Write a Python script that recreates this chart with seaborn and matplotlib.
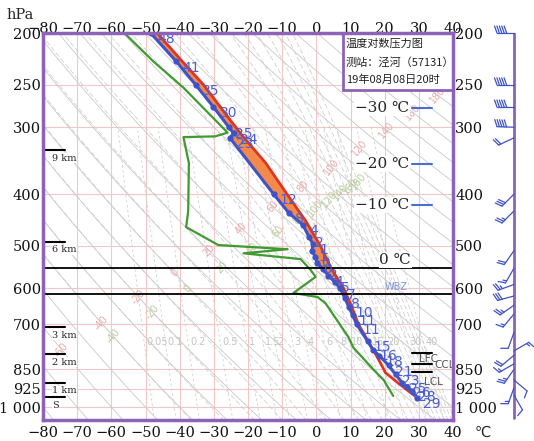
import numpy as np
import matplotlib
matplotlib.use('Agg')
import matplotlib.pyplot as plt
from matplotlib.patches import Rectangle
from matplotlib.ticker import NullLocator
import seaborn as sns

# ── Sounding values ──────────────────────────────────────────────────────────
# environment temperature (blue) with the numbers printed next to each point
env_p = [200, 226, 250, 275, 300, 308, 314, 400, 434, 457,
         480, 496, 510, 524, 538, 552, 568, 584, 600, 625, 650, 673, 700,
         753, 782, 801, 836, 869, 902, 916, 933, 960]
env_t = [-48.5, -41.0, -35.3, -30.1, -25.6, -24.2, -25.3, -12.5, -8.0, -3.9,
         -2.2, -1.0, -1.3, -0.3, 0.3, 1.9, 3.5, 5.4, 7.0, 8.3, 9.5, 10.6, 11.8,
         15.0, 16.6, 18.4, 21.2, 23.2, 25.2, 26.5, 28.0, 29.5]
env_lbl = ['48', '41', '35', '30', '25', '24', '23', '12', '8', '4',
           '2', '1', '1', '0', '0', '2', '4', '5', '7', '8', '10', '11', '11',
           '15', '16', '18', '21', '23', '25', '26', '28', '29']

# lifted parcel (red)
par_p = [960, 930, 900, 862, 830, 793, 750, 700, 650, 600, 550, 500,
         450, 400, 350, 312, 300, 250, 225, 200]
par_t = [29.5, 26.7, 23.8, 20.2, 18.9, 17.2, 15.0, 12.3, 10.4, 8.0, 4.3, 1.2,
         -3.0, -8.6, -14.8, -21.5, -23.6, -33.0, -39.5, -46.6]

# dew point (green)
td_p = [200, 226, 253, 281, 300, 307, 312, 313, 350, 430, 461, 498, 507, 516,
        529, 554, 571, 612, 623, 640, 740, 775, 852, 890, 953]
td_t = [-56.2, -47.7, -38.9, -31.9, -27.5, -26.0, -29.6, -38.9, -37.3, -37.5,
        -38.1, -28.7, -8.4, -21.3, -4.6, -1.7, -0.2, -6.7, 0.4, 2.7, 9.4, 10.9,
        16.8, 19.7, 22.5]

# wind barbs (hPa, direction deg, speed m/s)
wind_p   = [200, 250, 275, 300, 314, 400, 430, 510, 550, 590, 620, 645, 670,
            725, 785, 800, 830, 850, 890, 920, 950]
wind_dir = [270, 270, 270, 272, 245, 225, 225, 215, 210, 250, 255, 235, 220,
            200, 60, 230, 240, 215, 130, 200, 150]
wind_spd = [20, 20, 20, 20, 8, 12, 10, 8, 6, 10, 12, 10, 6,
            4, 6, 8, 6, 10, 4, 6, 4]

# levels marked on the chart
height_p   = [331, 491, 709, 797, 900, 958]
height_lbl = ['9 km', '6 km', '3 km', '2 km', '1 km', 'S']
iso_p   = [276, 351, 419]
iso_lbl = ['\u221230 \u2103', '\u221220 \u2103', '\u221210 \u2103']
zero_p, wbz_p = 550, 615
lev_p   = [793, 830, 860]
lev_lbl = ['LFC', 'CCL', 'LCL']
lev_lbl_p = [812, 834, 897]

P_TICKS  = [200, 250, 300, 400, 500, 600, 700, 850, 925, 1000]
P_LABELS = ['200', '250', '300', '400', '500', '600', '700', '850', '925', '1 000']
T_TICKS  = list(range(-80, 41, 10))
T_LABELS = [f'{t}'.replace('-', '\u2212') for t in T_TICKS]
MIX_W    = [0.05, 0.1, 0.2, 0.5, 1, 1.5, 2, 3, 4, 6, 8, 10, 15, 20, 30, 40]
DRY_TH   = list(range(-80, 211, 10))
MOIST_TH = list(range(-40, 181, 10))

# ── Colours ──────────────────────────────────────────────────────────────────
PURPLE = '#8d62b8'
BLUE   = '#3f52c6'
LBLUE  = '#4a5fd0'
RED    = '#e2331f'
ORANGE = '#f38a4c'
GREEN  = '#3f9a30'
PINK   = '#f1c7c7'

P_TOP, P_BOT = 200, 1057
T_MIN, T_MAX = -80, 40

# ── Thermo helpers (background reference lines only) ─────────────────────────
RD, CP, LV, EPS = 287.04, 1005.7, 2.501e6, 0.622


def sat_mix(t, p):
    es = 6.112 * np.exp(17.67 * t / (t + 243.5))
    return EPS * es / (p - es)


def moist_rate(t, p):
    tk = t + 273.15
    r = sat_mix(t, p)
    return (RD * tk + LV * r) / (CP + LV ** 2 * r * EPS / (RD * tk ** 2))


def integrate(t, lp_grid):
    out = [t]
    for a, b in zip(lp_grid[:-1], lp_grid[1:]):
        d = b - a
        k1 = moist_rate(t, np.exp(a))
        k2 = moist_rate(t + k1 * d, np.exp(b))
        t = t + 0.5 * (k1 + k2) * d
        out.append(t)
    return np.array(out)


def moist_line(th_se, pg):
    target = th_se + 273.15
    lo, hi = -95.0, 45.0
    for _ in range(60):
        mid = 0.5 * (lo + hi)
        tk = mid + 273.15
        val = tk * np.exp(LV * sat_mix(mid, 1000.0) / (CP * tk))
        lo, hi = (mid, hi) if val < target else (lo, mid)
    t0 = 0.5 * (lo + hi)
    t_bot = integrate(t0, np.linspace(np.log(1000), np.log(pg[0]), 20))[-1]
    return integrate(t_bot, np.log(pg))


def cross_point(t_arr, p_arr, a, b):
    X = np.asarray(t_arr) * 3.41
    Y = np.log(p_arr) * 232.4
    xa, ya = a[0] * 3.41, np.log(a[1]) * 232.4
    xb, yb = b[0] * 3.41, np.log(b[1]) * 232.4
    s = (xb - xa) * (Y - ya) - (yb - ya) * (X - xa)
    idx = np.where(np.sign(s[:-1]) != np.sign(s[1:]))[0]
    if len(idx) == 0:
        return None
    i = idx[0]
    f = s[i] / (s[i] - s[i + 1])
    t = t_arr[i] + f * (t_arr[i + 1] - t_arr[i])
    p = np.exp(np.log(p_arr[i]) + f * (np.log(p_arr[i + 1]) - np.log(p_arr[i])))
    if T_MIN < t < T_MAX and P_TOP < p < P_BOT:
        return t, p
    return None


# ── Figure ───────────────────────────────────────────────────────────────────
sns.set_theme(style='white')
plt.rcParams['font.family'] = ['DejaVu Serif', 'DejaVu Sans']

W, H = 534, 441
fig = plt.figure(figsize=(W / 100, H / 100), dpi=100)


def fbox(x0, y0, x1, y1):
    return [x0 / W, 1 - y1 / H, (x1 - x0) / W, (y1 - y0) / H]


ax = fig.add_axes(fbox(43, 33, 453, 420))
axw = fig.add_axes(fbox(480, 33, 530, 420))

ax.set_yscale('log')
ax.set_xlim(T_MIN, T_MAX)
ax.set_ylim(P_BOT, P_TOP)

# grid
ax.vlines(T_TICKS, P_TOP, P_BOT, color=PINK, lw=0.8, zorder=1)
ax.hlines(P_TICKS, T_MIN, T_MAX, color=PINK, lw=0.8, zorder=1)

# dry adiabats
pg = np.geomspace(1060, 195, 260)
for th in DRY_TH:
    td_line = (th + 273.15) * (pg / 1000) ** 0.286 - 273.15
    ax.plot(td_line, pg, color='#c9c9c9', lw=0.6, zorder=1)
    if th % 20 == 0:
        c = cross_point(td_line, pg, (-61.8, 688), (36.4, 259))
        if c:
            ax.text(c[0], c[1], f'{th:d}', color='#eaa9a9', fontsize=7,
                    family='DejaVu Sans', rotation=50, ha='center',
                    va='center', zorder=2)

# moist adiabats
for th in MOIST_TH:
    tm = moist_line(th, pg)
    ax.plot(tm, pg, color='#d0d0d0', lw=0.6, ls=(0, (6, 3)), zorder=1)
    if th % 20 == 0:
        c = cross_point(tm, pg, (-58.9, 733), (13.0, 376))
        if c:
            ax.text(c[0], c[1], f'{th:d}', color='#b7cc9c', fontsize=7,
                    family='DejaVu Sans', rotation=50, ha='center',
                    va='center', zorder=2)

# mixing ratio lines
pm = np.geomspace(1060, 300, 120)
for w in MIX_W:
    e = w * pm / (622 + w)
    g = np.log(e / 6.112)
    ax.plot(243.5 * g / (17.67 - g), pm, color='#d0d0d0', lw=0.6,
            ls=(0, (3, 3)), zorder=1)
    e7 = w * 756 / (622 + w)
    g7 = np.log(e7 / 6.112)
    ax.text(243.5 * g7 / (17.67 - g7) + 0.6, 756, f'{w:g}', color='#c4c4c4',
            fontsize=7, family='DejaVu Sans', ha='left', va='center', zorder=2)

# CAPE area between parcel and environment
pf = np.geomspace(200, 960, 500)
ei = np.interp(np.log(pf), np.log(env_p), env_t)
pi = np.interp(np.log(pf), np.log(par_p[::-1]), par_t[::-1])
ax.fill_betweenx(pf, ei, pi, where=pi > ei, color=ORANGE, interpolate=True,
                 lw=0, zorder=3)

# curves
sns.lineplot(x=td_t, y=td_p, sort=False, estimator=None, color=GREEN, lw=1.6,
             ax=ax, zorder=4)
sns.lineplot(x=par_t, y=par_p, sort=False, estimator=None, color=RED, lw=2.0,
             ax=ax, zorder=5)
sns.lineplot(x=env_t, y=env_p, sort=False, estimator=None, color=BLUE, lw=2.2,
             marker='o', markersize=4.5, markeredgewidth=0, ax=ax, zorder=6)
ax.set_xlabel('')
ax.set_ylabel('')

for t, p, s in zip(env_t, env_p, env_lbl):
    ax.annotate(s, (t, p), xytext=(4.5, -4.5), textcoords='offset points',
                color=LBLUE, fontsize=10, family='DejaVu Sans', ha='left',
                va='center', zorder=7)

# 0 ℃ and WBZ levels
ax.hlines([zero_p, wbz_p], T_MIN, T_MAX, color='black', lw=1.3, zorder=6)
yx = ax.get_yaxis_transform()
ax.text(0.859, 531, '0 \u2103', transform=yx, fontsize=11, ha='center',
        va='center', bbox=dict(fc='white', ec='none', pad=0.5), zorder=8)
ax.text(0.861, 596, 'WBZ', transform=yx, fontsize=7, color='#8096dc',
        family='DejaVu Sans', ha='center', va='center', zorder=8)

# isotherm levels of the environment
for p, s in zip(iso_p, iso_lbl):
    ax.text(0.892, p, s, transform=yx, fontsize=11, ha='right', va='center',
            bbox=dict(fc='white', ec='none', pad=0.8), zorder=8)
    ax.plot([0.9, 0.949], [p, p], transform=yx, color='#4a6fd0', lw=1.5,
            zorder=8)

# LFC / CCL / LCL
for p in lev_p:
    ax.plot([0.9, 0.949], [p, p], transform=yx, color='black', lw=1.5, zorder=8)
for p, s, x in zip(lev_lbl_p, lev_lbl, [0.918, 0.954, 0.93]):
    ax.text(x, p, s, transform=yx, fontsize=7.5, color='#555555',
            family='DejaVu Sans', ha='left', va='center', zorder=8,
            clip_on=False)

# height markers on the left
for p, s in zip(height_p, height_lbl):
    ax.plot([0, 0.054], [p, p], transform=yx, color='black', lw=1.5,
            zorder=8, clip_on=False)
    ax.annotate(s, (0.022, p), xycoords=yx, xytext=(0, -2.5),
                textcoords='offset points', fontsize=7, ha='left', va='top',
                bbox=dict(fc='white', ec='none', pad=0.3), zorder=8)

# station box
ax.add_patch(Rectangle((0.732, 0.853), 0.268, 0.147, transform=ax.transAxes,
                       fc='white', ec=PURPLE, lw=2, zorder=9, clip_on=False))
for y, s in zip([0.972, 0.925, 0.878],
                ['温度对数压力图', '测站：泾河（57131）', '19年08月08日20时']):
    ax.text(0.738, y, s, transform=ax.transAxes, fontsize=8, color='#222222',
            family=['Noto Sans CJK SC', 'DejaVu Sans'], ha='left',
            va='center', zorder=10)

# axes styling
ax.set_xticks(T_TICKS, labels=T_LABELS)
ax.set_yticks(P_TICKS, labels=P_LABELS)
ax.yaxis.set_minor_locator(NullLocator())
ax.tick_params(axis='both', length=0, labelsize=10.5, colors='#111111')
ax.tick_params(axis='x', pad=4)
ax.tick_params(axis='y', labelright=True, pad=1.5)
xx = ax.get_xaxis_transform()
for t, s in zip(T_TICKS, T_LABELS):
    ax.annotate(s, (t, 1.0), xycoords=xx, xytext=(0, 0),
                textcoords='offset points', fontsize=10.5, color='#111111',
                ha='center', va='baseline', annotation_clip=False)
for sp in ax.spines.values():
    sp.set_color(PURPLE)
    sp.set_linewidth(2.5)
    sp.set_zorder(11)
ax.grid(False)

fig.text(20 / W, 1 - 15 / H, 'hPa', fontsize=10.5, ha='center', va='center')
fig.text(483 / W, 1 - 432 / H, '\u2103', fontsize=10.5, ha='center',
         va='center', family=['DejaVu Sans'])

# ── Wind barbs panel ─────────────────────────────────────────────────────────
# x runs in pixels (50 px wide panel), y is the same log-pressure scale
axw.set_yscale('log')
axw.set_ylim(P_BOT, P_TOP)
axw.set_xlim(0, 50)
axw.axis('off')
STAFF_X = 34
axw.plot([STAFF_X, STAFF_X], [P_TOP, 1050], color=PURPLE, lw=2, zorder=1)

PX_PER_LN = 387 / np.log(P_BOT / P_TOP)
SHAFT, FEATHER, GAP = 17.0, 7.0, 2.4


def seg(p0, a, b):
    """draw one barb stroke given pixel offsets (x right, y up) from anchor"""
    xs = [STAFF_X + a[0], STAFF_X + b[0]]
    ps = [p0 * np.exp(-a[1] / PX_PER_LN), p0 * np.exp(-b[1] / PX_PER_LN)]
    axw.plot(xs, ps, color=BLUE, lw=0.9, solid_capstyle='round', zorder=2,
             clip_on=False)


for p0, wd, ws in zip(wind_p, wind_dir, wind_spd):
    r = np.deg2rad(wd)
    d = np.array([np.sin(r), np.cos(r)])      # points to where wind comes from
    n = np.array([d[1], -d[0]])               # feathers on the clockwise side
    seg(p0, (0, 0), d * SHAFT)
    n_full, half = int(ws // 4), (ws % 4) >= 2
    pos = SHAFT
    for _ in range(n_full):
        base = d * pos
        seg(p0, base, base + n * FEATHER + d * 2.5)
        pos -= GAP
    if half:
        if n_full == 0:
            pos -= GAP
        base = d * pos
        seg(p0, base, base + n * FEATHER / 2 + d * 1.25)

fig.savefig('out.png', dpi=100)
